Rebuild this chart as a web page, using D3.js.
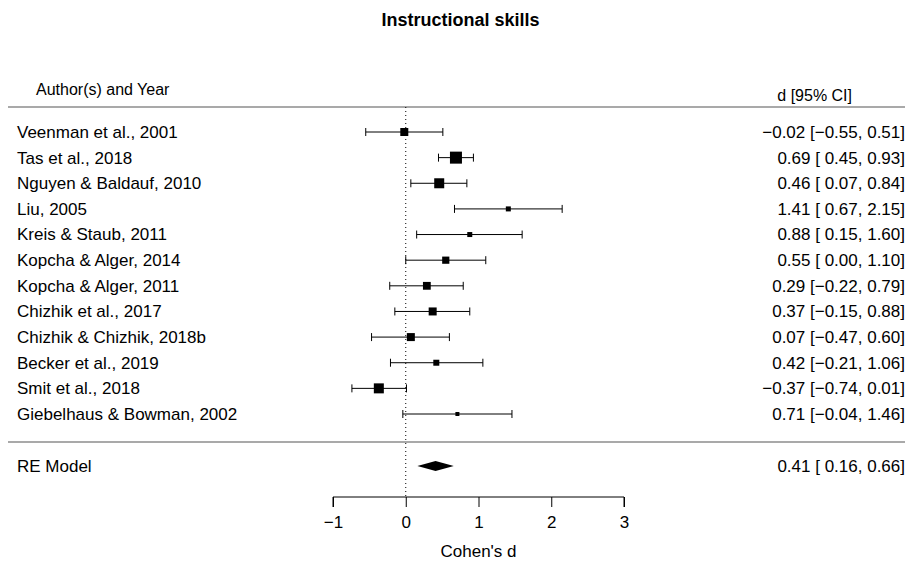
<!DOCTYPE html>
<html>
<head>
<meta charset="utf-8">
<script src="https://cdn.jsdelivr.net/npm/d3@7"></script>
<style>
  body { margin: 0; background: #fff; }
  text { font-family: "Liberation Sans", Arial, sans-serif; fill: #000; }
</style>
</head>
<body>
<div id="forest"></div>
<script>
// Study data
const studies = ["Veenman et al., 2001", "Tas et al., 2018", "Nguyen & Baldauf, 2010", "Liu, 2005",
  "Kreis & Staub, 2011", "Kopcha & Alger, 2014", "Kopcha & Alger, 2011", "Chizhik et al., 2017",
  "Chizhik & Chizhik, 2018b", "Becker et al., 2019", "Smit et al., 2018", "Giebelhaus & Bowman, 2002"];
const estimates = [-0.02, 0.69, 0.46, 1.41, 0.88, 0.55, 0.29, 0.37, 0.07, 0.42, -0.37, 0.71];
const lower = [-0.55, 0.45, 0.07, 0.67, 0.15, 0.00, -0.22, -0.15, -0.47, -0.21, -0.74, -0.04];
const upper = [0.51, 0.93, 0.84, 2.15, 1.60, 1.10, 0.79, 0.88, 0.60, 1.06, 0.01, 1.46];
// relative weights (square size)
const weights = [8.0, 12.0, 10.0, 5.0, 5.0, 7.2, 7.8, 8.0, 8.0, 6.0, 10.0, 4.0];
const model = {label: "RE Model", est: 0.41, lo: 0.16, hi: 0.66};
const xTicks = [-1, 0, 1, 2, 3];

const width = 905, height = 561;
const fs = "17px";

const svg = d3.select("#forest")
  .append("svg")
  .attr("width", width)
  .attr("height", height);

// scales
const x = d3.scaleLinear().domain([-1, 3]).range([333, 624]);
const y = d3.scaleLinear().domain([0, studies.length - 1]).range([132, 414]);
const modelY = 466;
const size = d3.scaleLinear().domain([0, d3.max(weights)]).range([0, 12]);

const fmt = v => (v < 0 ? "\u2212" : "") + Math.abs(v).toFixed(2);
const fmtLo = v => (v < 0 ? "\u2212" : " ") + Math.abs(v).toFixed(2);
const ciText = (e, l, u) => `${fmt(e)} [${fmtLo(l)}, ${fmt(u)}]`;

// title
svg.append("text")
  .attr("x", width / 2 + 8)
  .attr("y", 26)
  .attr("text-anchor", "middle")
  .style("font-size", "18px")
  .style("font-weight", "bold")
  .text("Instructional skills");

// headers
svg.append("text")
  .attr("x", 36).attr("y", 89)
  .attr("dy", "0.35em")
  .style("font-size", "16px")
  .text("Author(s) and Year");
svg.append("text")
  .attr("x", 852).attr("y", 95)
  .attr("dy", "0.35em")
  .attr("text-anchor", "end")
  .style("font-size", "16px")
  .text("d [95% CI]");

// horizontal rules
[107, 442].forEach(yy => {
  svg.append("line")
    .attr("x1", 8).attr("x2", width)
    .attr("y1", yy).attr("y2", yy)
    .attr("stroke", "#555").attr("stroke-width", 1.2);
});

// reference line at 0
svg.append("line")
  .attr("x1", x(0)).attr("x2", x(0))
  .attr("y1", 107).attr("y2", 497)
  .attr("stroke", "#000")
  .attr("stroke-width", 1)
  .attr("stroke-dasharray", "1,3");

// study rows
studies.forEach((s, i) => {
  const yy = y(i);
  svg.append("text")
    .attr("x", 17).attr("y", yy)
    .attr("dy", "0.35em")
    .style("font-size", fs)
    .text(s);
  svg.append("text")
    .attr("x", 905).attr("y", yy)
    .attr("dy", "0.35em")
    .attr("text-anchor", "end")
    .style("font-size", fs)
    .style("white-space", "pre")
    .text(ciText(estimates[i], lower[i], upper[i]));

  const g = svg.append("g").attr("stroke", "#000").attr("stroke-width", 1);
  g.append("line")
    .attr("x1", x(lower[i])).attr("x2", x(upper[i]))
    .attr("y1", yy).attr("y2", yy);
  [lower[i], upper[i]].forEach(v => {
    g.append("line")
      .attr("x1", x(v)).attr("x2", x(v))
      .attr("y1", yy - 4).attr("y2", yy + 4);
  });
  const s2 = size(weights[i]);
  svg.append("rect")
    .attr("x", x(estimates[i]) - s2 / 2)
    .attr("y", yy - s2 / 2)
    .attr("width", s2).attr("height", s2)
    .attr("fill", "#000");
});

// summary diamond
svg.append("text")
  .attr("x", 17).attr("y", modelY)
  .attr("dy", "0.35em")
  .style("font-size", fs)
  .text(model.label);
svg.append("text")
  .attr("x", 905).attr("y", modelY)
  .attr("dy", "0.35em")
  .attr("text-anchor", "end")
  .style("font-size", fs)
  .style("white-space", "pre")
  .text(ciText(model.est, model.lo, model.hi));
svg.append("path")
  .attr("d", `M${x(model.lo)},${modelY} L${x(model.est)},${modelY - 5} L${x(model.hi)},${modelY} L${x(model.est)},${modelY + 5} Z`)
  .attr("fill", "#000");

// x axis
const axis = svg.append("g")
  .attr("transform", "translate(0,497)")
  .call(d3.axisBottom(x).tickValues(xTicks).tickSize(10).tickPadding(9)
    .tickFormat(d => d < 0 ? "\u2212" + Math.abs(d) : d));
axis.select(".domain").attr("d", `M${x(-1)},10V0H${x(3)}V10`).attr("stroke", "#000");
axis.selectAll(".tick line").attr("stroke", "#000");
axis.selectAll(".tick text")
  .style("font-size", fs)
  .style("font-family", "Liberation Sans, Arial, sans-serif")
  .attr("fill", "#000");

svg.append("text")
  .attr("x", x(1)).attr("y", 551)
  .attr("dy", "0.35em")
  .attr("text-anchor", "middle")
  .style("font-size", fs)
  .text("Cohen's d");
</script>
</body>
</html>
